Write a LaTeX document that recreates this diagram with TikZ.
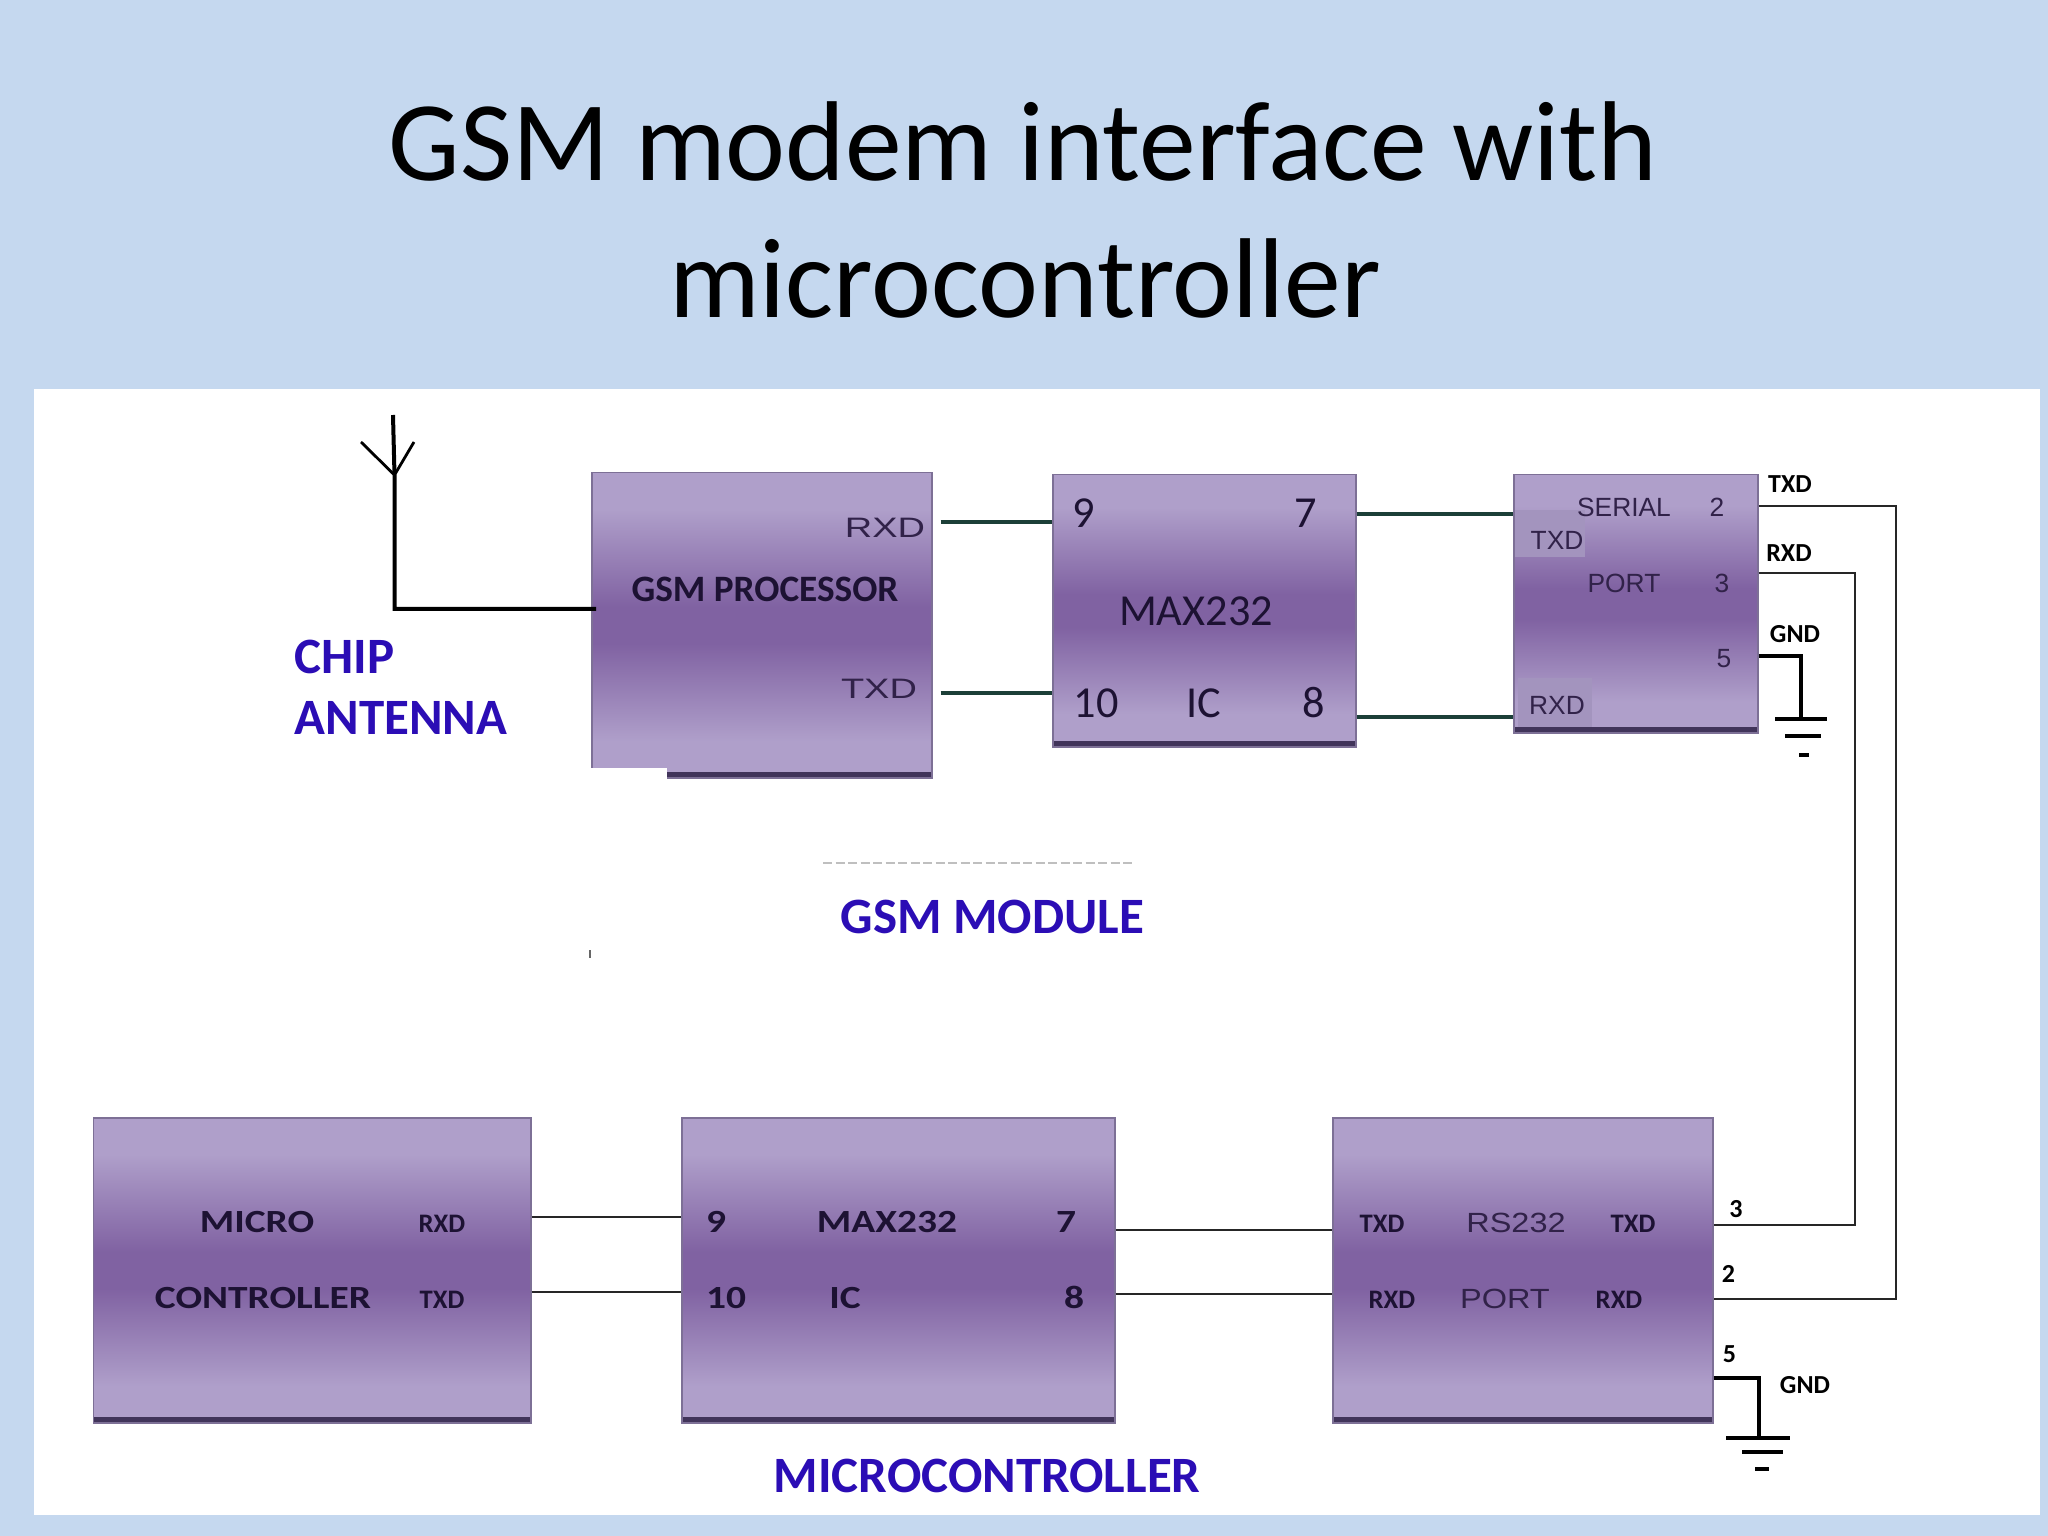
\documentclass[tikz,border=0pt]{standalone}
\usepackage{fontspec}
\setmainfont{Carlito}
\newfontfamily\arialish{Liberation Sans}
\newfontfamily\wideair[FakeStretch=1.35]{Liberation Sans}
\newfontfamily\midair[FakeStretch=1.17]{Liberation Sans}
\newfontfamily\widebold[FakeStretch=1.22]{Carlito Bold}
\definecolor{slidebg}{HTML}{C5D8EF}
\definecolor{boxlight}{HTML}{AF9FCA}
\definecolor{boxdark}{HTML}{8062A2}
\definecolor{boxedge}{HTML}{7D7096}
\definecolor{boxfoot}{HTML}{41345A}
\definecolor{captionblue}{HTML}{2B0DB5}
\definecolor{wiregreen}{HTML}{1C3F38}
\definecolor{inktext}{HTML}{1D1233}
\definecolor{patchlight}{HTML}{A394BE}
\pgfdeclareverticalshading{boxshade}{100bp}{color(0bp)=(boxlight); color(31bp)=(boxlight); color(47bp)=(boxdark); color(53bp)=(boxdark); color(69bp)=(boxlight); color(100bp)=(boxlight)}
\tikzset{
  chipbox/.style={anchor=north west, rectangle, inner sep=0pt, shading=boxshade,
    draw=boxedge, line width=0.015cm,
    path picture={\fill[boxfoot] (path picture bounding box.south west)
      rectangle ([yshift=0.06cm]path picture bounding box.south east);}},
  lbl/.style={anchor=base, inner sep=0pt, text=inktext},
  digit/.style={lbl, font=\fontsize{12.6}{15}\selectfont},
  hazy/.style={lbl, font=\arialish\fontsize{7.5}{10}\selectfont, text=inktext!80!boxdark},
  hazywide/.style={hazy, font=\wideair\fontsize{8}{10}\selectfont},
  hazymid/.style={hazy, font=\midair\fontsize{7.9}{10}\selectfont},
  tiny/.style={lbl, font=\bfseries\fontsize{7.6}{10}\selectfont},
  strong/.style={lbl, font=\bfseries\fontsize{10.6}{12}\selectfont},
  strongwide/.style={lbl, font=\widebold\fontsize{9.2}{12}\selectfont},
  pinlbl/.style={lbl, font=\bfseries\fontsize{7.4}{10}\selectfont, text=black},
  caption/.style={anchor=base west, inner sep=0pt, text=captionblue,
    font=\bfseries\fontsize{14.5}{17.36}\selectfont},
  headline/.style={anchor=base, inner sep=0pt, font=\fontsize{32.3}{40}\selectfont},
  wire/.style={draw=black!85, line width=0.026cm},
  gwire/.style={draw=wiregreen, line width=0.034cm},
  heavy/.style={draw=black, line width=0.04cm},
  earth/.style={draw=black, line width=0.034cm},
}
\begin{document}
\begin{tikzpicture}[x=1cm, y=-1cm]
  \useasboundingbox (0,0) rectangle (20.48,15.36);
  % Slide
  \fill[slidebg] (0,0) rectangle (20.48,15.36);
  \fill[white] (0.34,3.89) rectangle (20.40,15.15);
  \node[headline] (titleone) at (10.23,1.81) {GSM modem interface with};
  \node[headline] (titletwo) at (10.25,3.18) {microcontroller};

  % Specks left on the white area
  \draw[black!25, line width=0.02cm, dash pattern=on 0.09cm off 0.035cm] (8.23,8.63) -- (11.35,8.63);
  \fill[black!60] (5.89,9.50) rectangle (5.91,9.58);

  % Boxes (GSM module)
  \node[chipbox, minimum width=3.40cm, minimum height=3.05cm] (gsmproc) at (5.91,4.72) {};
  \node[chipbox, minimum width=3.03cm, minimum height=2.72cm] (maxtop) at (10.52,4.74) {};
  \node[chipbox, minimum width=2.44cm, minimum height=2.58cm] (serial) at (15.13,4.74) {};
  \fill[white] (5.86,7.68) rectangle (6.67,7.85);
  \fill[patchlight] (15.15,5.10) rectangle (15.85,5.57);
  \fill[patchlight] (15.18,6.78) rectangle (15.92,7.27);

  % Boxes (microcontroller)
  \node[chipbox, minimum width=4.37cm, minimum height=3.05cm] (micro) at (0.93,11.17) {};
  \node[chipbox, minimum width=4.33cm, minimum height=3.05cm] (maxlow) at (6.81,11.17) {};
  \node[chipbox, minimum width=3.80cm, minimum height=3.05cm] (rsport) at (13.32,11.17) {};

  % Levels and corners of the wires
  \coordinate (rxdtop) at (0,5.22);
  \coordinate (txdtop) at (0,6.93);
  \coordinate (sevenrun) at (0,5.14);
  \coordinate (eightrun) at (0,7.17);
  \coordinate (ninerun) at (0,12.17);
  \coordinate (tenrun) at (0,12.92);
  \coordinate (sevenlow) at (0,12.30);
  \coordinate (eightlow) at (0,12.94);
  \coordinate (txdcorner) at (18.96,5.06);
  \coordinate (txdend) at (18.96,12.99);
  \coordinate (rxdcorner) at (18.55,5.73);
  \coordinate (rxdend) at (18.55,12.25);
  \coordinate (gndcorner) at (18.01,6.56);
  \coordinate (gndfoot) at (18.01,7.19);
  \coordinate (gndlowcorner) at (17.59,13.78);
  \coordinate (gndlowfoot) at (17.59,14.38);
  \coordinate (antbase) at (3.945,6.09);
  \coordinate (antfork) at (3.945,4.75);
  \coordinate (anttop) at (3.93,4.15);
  \coordinate (antleft) at (3.61,4.42);
  \coordinate (antright) at (4.14,4.42);

  % Antenna
  \draw[heavy, shorten <=-0.05cm] (gsmproc.west |- antbase) -- (antbase) -- (antfork) -- (anttop);
  \draw[draw=black, line width=0.028cm] (antleft) -- (antfork) -- (antright);

  % Arcs (GSM module)
  \draw[gwire, shorten <=0.08cm] (gsmproc.east |- rxdtop) -- (maxtop.west |- rxdtop);
  \draw[gwire, shorten <=0.08cm] (gsmproc.east |- txdtop) -- (maxtop.west |- txdtop);
  \draw[gwire] (maxtop.east |- sevenrun) -- (serial.west |- sevenrun);
  \draw[gwire] (maxtop.east |- eightrun) -- (serial.west |- eightrun);
  \draw[wire] (serial.east |- txdcorner) -- (txdcorner) -- (txdend) -- (rsport.east |- txdend);
  \draw[wire] (serial.east |- rxdcorner) -- (rxdcorner) -- (rxdend) -- (rsport.east |- rxdend);

  % Arcs (microcontroller)
  \draw[wire] (micro.east |- ninerun) -- (maxlow.west |- ninerun);
  \draw[wire] (micro.east |- tenrun) -- (maxlow.west |- tenrun);
  \draw[wire] (maxlow.east |- sevenlow) -- (rsport.west |- sevenlow);
  \draw[wire] (maxlow.east |- eightlow) -- (rsport.west |- eightlow);

  % Grounds
  \draw[earth] (serial.east |- gndcorner) -- (gndcorner) -- (gndfoot);
  \draw[earth] (17.75,7.19) -- (18.27,7.19);
  \draw[earth] (17.85,7.36) -- (18.21,7.36);
  \draw[earth] (17.99,7.55) -- (18.09,7.55);
  \draw[earth] (rsport.east |- gndlowcorner) -- (gndlowcorner) -- (gndlowfoot);
  \draw[earth] (17.26,14.38) -- (17.90,14.38);
  \draw[earth] (17.42,14.52) -- (17.83,14.52);
  \draw[earth] (17.55,14.69) -- (17.69,14.69);

  % Labels (GSM module)
  \node[strong] (gsmname) at (7.65,6.02) {GSM PROCESSOR};
  \node[hazywide] (gsmrxd) at (8.85,5.38) {RXD};
  \node[hazywide] (gsmtxd) at (8.79,6.98) {TXD};
  \node[digit] (pinnine) at (10.84,5.28) {9};
  \node[digit] (pinseven) at (13.06,5.28) {7};
  \node[digit] (maxname) at (11.96,6.25) {MAX232};
  \node[digit] (pinten) at (10.96,7.17) {10};
  \node[digit] (icname) at (12.04,7.17) {IC};
  \node[digit] (pineight) at (13.14,7.17) {8};
  \node[hazy] (serialname) at (16.24,5.17) {SERIAL};
  \node[hazy] (portname) at (16.24,5.93) {PORT};
  \node[hazy] (serialtwo) at (17.17,5.17) {2};
  \node[hazy] (serialthree) at (17.22,5.93) {3};
  \node[hazy] (serialfive) at (17.24,6.68) {5};
  \node[hazy] (serialtxd) at (15.57,5.50) {TXD};
  \node[hazy] (serialrxd) at (15.57,7.15) {RXD};
  \node[pinlbl] (outtxd) at (17.90,4.93) {TXD};
  \node[pinlbl] (outrxd) at (17.89,5.62) {RXD};
  \node[pinlbl] (outgnd) at (17.95,6.43) {GND};

  % Labels (microcontroller)
  \node[strongwide] (microname) at (2.57,12.32) {MICRO};
  \node[strongwide] (ctrlname) at (2.63,13.08) {CONTROLLER};
  \node[tiny] (microrxd) at (4.42,12.32) {RXD};
  \node[tiny] (microtxd) at (4.42,13.08) {TXD};
  \node[strongwide] (lownine) at (7.16,12.32) {9};
  \node[strongwide] (maxlowname) at (8.87,12.32) {MAX232};
  \node[strongwide] (lowseven) at (10.66,12.32) {7};
  \node[strongwide] (lowten) at (7.26,13.08) {10};
  \node[strongwide] (iclow) at (8.45,13.08) {IC};
  \node[strongwide] (loweight) at (10.74,13.08) {8};
  \node[tiny] (rstxdin) at (13.82,12.32) {TXD};
  \node[hazymid] (rsname) at (15.16,12.32) {RS232};
  \node[tiny] (rstxdout) at (16.33,12.32) {TXD};
  \node[tiny] (rsrxdin) at (13.92,13.08) {RXD};
  \node[hazymid] (rsportname) at (15.05,13.08) {PORT};
  \node[tiny] (rsrxdout) at (16.19,13.08) {RXD};
  \node[pinlbl] (rsthree) at (17.36,12.17) {3};
  \node[pinlbl] (rstwo) at (17.285,12.82) {2};
  \node[pinlbl] (rsfive) at (17.295,13.62) {5};
  \node[pinlbl] (rsgnd) at (18.05,13.93) {GND};

  % Captions
  \node[caption, align=left] (chipant) at (2.94,7.35) {CHIP\\ANTENNA};
  \node[caption] (gsmmod) at (8.40,9.33) {GSM MODULE};
  \node[caption] (microcap) at (7.73,14.92) {MICROCONTROLLER};
\end{tikzpicture}
\end{document}
